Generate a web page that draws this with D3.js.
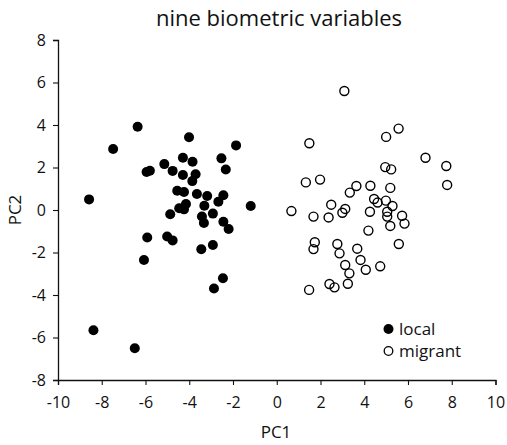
<!DOCTYPE html>
<html>
<head>
<meta charset="utf-8">
<script src="https://cdn.jsdelivr.net/npm/d3@7"></script>
<style>
  html, body { margin: 0; padding: 0; background: #fff; }
  svg { display: block; }
  text { font-family: "Open Sans", "DejaVu Sans", sans-serif; fill: #111; }
</style>
</head>
<body>
<svg id="chart" width="507" height="445"></svg>
<script>
const title = "nine biometric variables";
const xLabel = "PC1";
const yLabel = "PC2";
const xTicks = [-10, -8, -6, -4, -2, 0, 2, 4, 6, 8, 10];
const yTicks = [-8, -6, -4, -2, 0, 2, 4, 6, 8];
const seriesNames = ["local", "migrant"];

const localX = [-6.36, -7.48, -4.01, -1.86, -2.53, -2.33, -4.29, -3.85, -5.14, -4.76, -5.95, -5.80, -4.29, -3.71, -3.86,
  -8.58, -4.55, -4.24, -3.65, -3.18, -2.44, -2.67, -3.31, -4.15, -4.24, -4.46, -1.19, -4.87, -2.92, -3.42, -3.33,
  -2.44, -2.20, -5.92, -5.01, -4.76, -2.92, -3.45, -6.07, -2.46, -2.87, -8.38, -6.49];
const localY = [3.92, 2.87, 3.42, 3.04, 2.43, 1.91, 2.46, 2.27, 2.16, 1.84, 1.79, 1.85, 1.65, 1.68, 1.36,
  0.50, 0.91, 0.85, 0.75, 0.66, 0.69, 0.39, 0.20, 0.28, 0.03, 0.08, 0.19, -0.20, -0.17, -0.31, -0.61,
  -0.55, -0.89, -1.29, -1.25, -1.43, -1.65, -1.85, -2.35, -3.21, -3.69, -5.66, -6.51];

const migrantX = [3.09, 5.57, 5.00, 1.49, 6.80, 7.75, 7.79, 4.96, 5.23, 1.33, 1.98, 3.64, 4.28, 5.19, 3.34,
  0.67, 2.49, 3.13, 3.00, 1.68, 2.37, 4.45, 4.61, 4.99, 5.29, 4.26, 5.05, 5.05, 5.73, 5.84, 5.19, 4.19,
  5.58, 1.74, 1.68, 2.77, 2.87, 3.68, 3.83, 3.13, 3.32, 4.07, 4.73, 3.25, 2.41, 2.64, 1.48];
const migrantY = [5.60, 3.83, 3.44, 3.14, 2.46, 2.07, 1.18, 2.02, 1.91, 1.30, 1.43, 1.13, 1.14, 1.04, 0.82,
  -0.05, 0.25, 0.05, -0.13, -0.31, -0.35, 0.52, 0.35, 0.44, 0.19, -0.08, -0.08, -0.31, -0.27, -0.64, -0.75, -0.97,
  -1.60, -1.52, -1.84, -1.60, -2.04, -1.82, -2.35, -2.59, -2.98, -2.81, -2.65, -3.47, -3.48, -3.64, -3.76];

const svg = d3.select("#chart");
const x = d3.scaleLinear().domain([-10, 10]).range([58, 495.5]);
const y = d3.scaleLinear().domain([-8, 8]).range([380, 40]);

const xAxis = svg.append("g").attr("transform", `translate(0,${y(-8)})`)
  .call(d3.axisBottom(x).tickValues(xTicks).tickSize(5).tickPadding(12).tickFormat(d => String(d)));
const yAxis = svg.append("g").attr("transform", `translate(${x(-10)},0)`)
  .call(d3.axisLeft(y).tickValues(yTicks).tickSize(5).tickPadding(7).tickFormat(d => String(d)));

[xAxis, yAxis].forEach(g => {
  g.select(".domain").attr("stroke", "#111").attr("stroke-width", 1.3);
  g.selectAll(".tick line").attr("stroke", "#111").attr("stroke-width", 1.1);
  g.selectAll(".tick text").style("font-size", "16px").style("font-family", "'Open Sans', sans-serif").attr("fill", "#111");
});

const local = localX.map((v, i) => ({ x: v, y: localY[i] }));
const migrant = migrantX.map((v, i) => ({ x: v, y: migrantY[i] }));

svg.append("g").selectAll("circle").data(local).join("circle")
  .attr("cx", d => x(d.x)).attr("cy", d => y(d.y)).attr("r", 5)
  .attr("fill", "#000");

svg.append("g").selectAll("circle").data(migrant).join("circle")
  .attr("cx", d => x(d.x)).attr("cy", d => y(d.y)).attr("r", 4.5)
  .attr("fill", "none").attr("stroke", "#000").attr("stroke-width", 1.4);

svg.append("text").attr("x", 279).attr("y", 25.5).attr("text-anchor", "middle")
  .style("font-size", "22px").text(title);
svg.append("text").attr("x", 276).attr("y", 438).attr("text-anchor", "middle")
  .style("font-size", "17px").text(xLabel);
svg.append("text").attr("transform", "translate(21,210) rotate(-90)").attr("text-anchor", "middle")
  .style("font-size", "17px").text(yLabel);

const legend = svg.append("g");
legend.append("circle").attr("cx", 388.5).attr("cy", 329).attr("r", 5).attr("fill", "#000");
legend.append("circle").attr("cx", 388.5).attr("cy", 351).attr("r", 4.3).attr("fill", "none").attr("stroke", "#000").attr("stroke-width", 1.3);
legend.append("text").attr("x", 399).attr("y", 335).style("font-size", "17px").text(seriesNames[0]);
legend.append("text").attr("x", 399).attr("y", 357).style("font-size", "17px").text(seriesNames[1]);
</script>
</body>
</html>
